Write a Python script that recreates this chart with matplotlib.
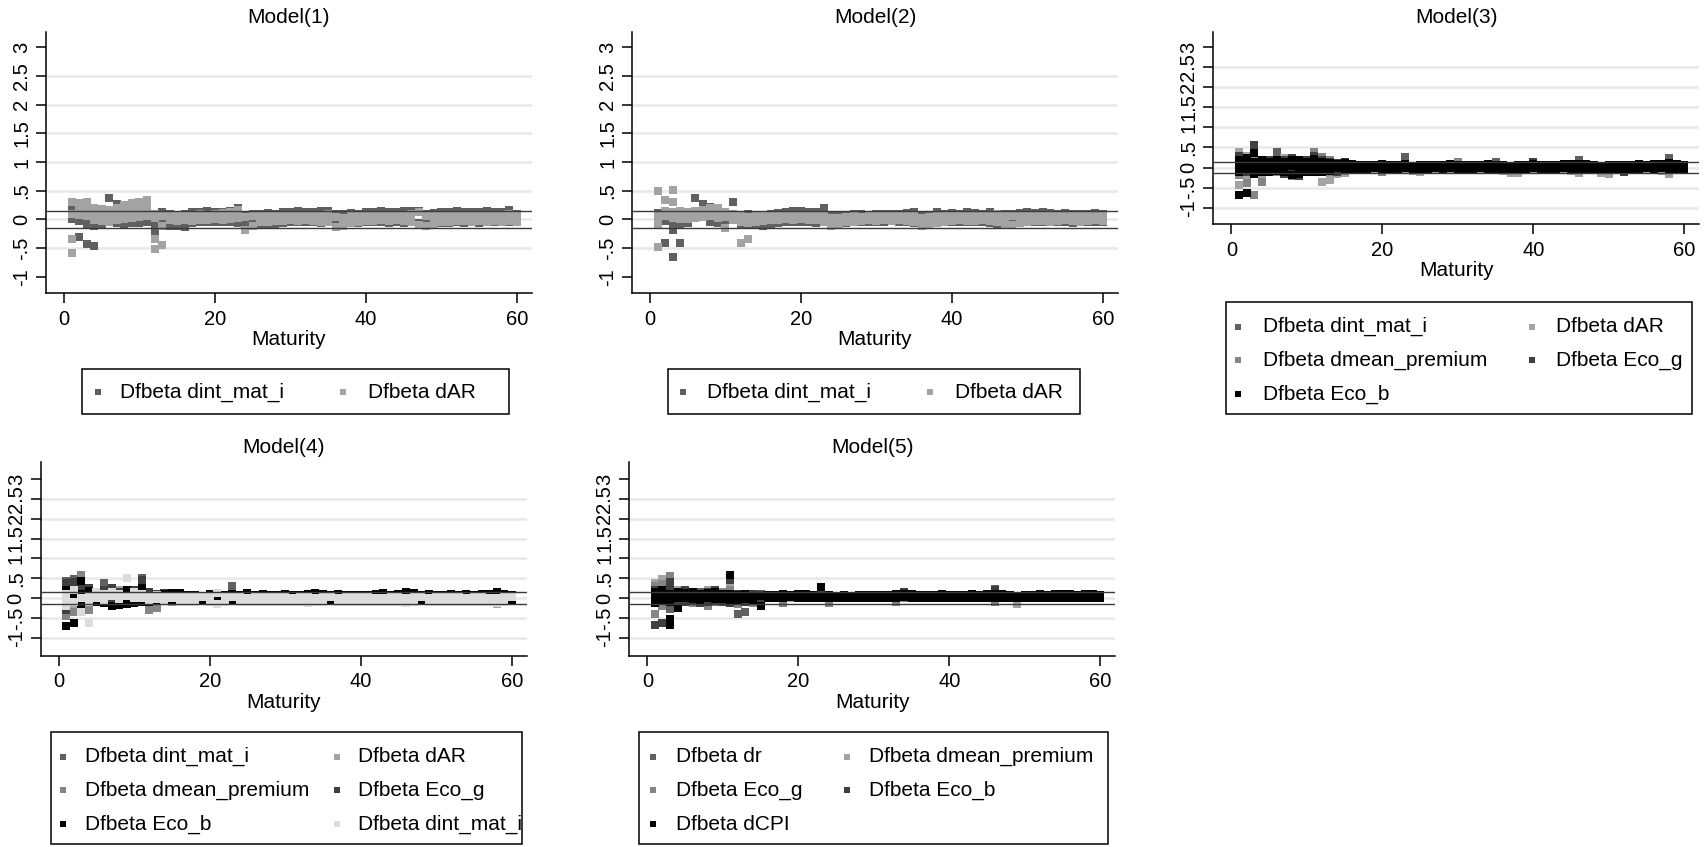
import matplotlib
matplotlib.use("Agg")
import matplotlib.pyplot as plt
from matplotlib.patches import Rectangle
from matplotlib.lines import Line2D

plt.rcParams['font.family'] = ['Liberation Sans', 'DejaVu Sans']

W, H = 1706, 847   # output size in px (dpi 100)

maturity = list(range(1, 61))
xticks = [0, 20, 40, 60]
yticks = [-1, -.5, 0, .5, 1, 1.5, 2, 2.5, 3]
ytick_labels = ['-1', '-.5', '0', '.5', '1', '1.5', '2', '2.5', '3']
cutoff = 0.145     # yline at +/- cutoff

# stata gray shades
gs6, gs10, gs8, gs4, gs0, gs14 = '#606060', '#a3a3a3', '#858585', '#3f3f3f', '#000000', '#dcdcdc'

# ---------------- Model(1): dfbeta values at each maturity ----------------
p1_dint = [
    [.18, 0], [-.3, .05, -.03], [-.43, -.09, .1], [-.47, -.12, .08], [.05, -.08], [.37, .1, -.05], [.27, -.07], [.2, -.08], [.15, -.06], [.18, -.07],
    [.2, -.05], [-.21, -.08], [-.06, .12], [-.12, .1], [-.12, .08], [-.13, .1], [.12, -.06], [.13, -.05], [.14, -.04], [.13, -.05],
    [.12, -.04], [.14, -.05], [.19, -.06], [.08, -.08], [.09, -.07], [.1, -.08], [.11, -.1], [.1, -.1], [.12, -.06], [.13, -.05],
    [.14, -.04], [.12, -.05], [.13, -.04], [.14, -.06], [.15, -.05], [.1, -.08], [.09, -.09], [.11, -.07], [.1, -.06], [.12, -.05],
    [.13, -.05], [.14, -.04], [.12, -.06], [.13, -.05], [.14, -.06], [.15, -.05], [.15, -.06], [.1, -.09], [.11, -.08], [.13, -.07],
    [.12, -.06], [.14, -.05], [.13, -.06], [.12, -.05], [.13, -.06], [.14, -.05], [.13, -.04], [.12, -.05], [.16, -.04], [.1, -.05],
]
p1_dar = [
    [.31, .1, -.34, -.59], [.28, .2, .12, .08], [.31, .22, .15, .05], [.2, .12, .05, -.02], [.18, .1, .03, -.03], [.17, .1, .02, -.04], [.2, .12, .05, -.02], [.25, .15, .07, 0], [.28, .2, .1, .03], [.3, .22, .12, .04],
    [.33, .24, .14, .05], [.1, .02, -.35, -.52], [.05, -.12, -.44], [.08, -.02], [.07, -.03], [.08, -.02], [.07, -.03], [.09, -.02], [.08, -.01], [.1, 0],
    [.11, -.01], [.12, 0], [.17, .02], [.04, -.18], [.05, -.12], [.06, -.05], [.05, -.04], [.06, -.03], [.05, -.03], [.06, -.02],
    [.07, -.03], [.06, -.02], [.07, -.03], [.08, -.04], [.09, -.05], [.04, -.13], [.03, -.11], [.05, -.06], [.06, -.04], [.05, -.03],
    [.06, -.03], [.07, -.02], [.06, -.03], [.07, -.02], [.08, -.03], [.09, -.05], [.12, -.1], [.05, -.12], [.06, -.08], [.05, -.05],
    [.06, -.04], [.07, -.03], [.06, -.03], [.05, -.04], [.06, -.03], [.07, -.04], [.06, -.03], [.08, -.04], [.1, -.03], [.06, -.04],
]

# ---------------- Model(2) ----------------
p2_dint = [
    [.11, -.02], [-.41, -.03], [-.18, -.66, -.12], [-.41, -.1], [.08, -.06], [.38, .1], [.27, .05], [.22, -.05], [.15, -.06], [.1, -.08],
    [.3, 0], [.08, -.1], [.1, -.08], [.07, -.1], [-.12, .05], [.1, -.08], [.11, -.06], [.13, -.05], [.14, -.05], [.14, -.04],
    [.13, -.05], [.12, -.06], [.2, -.04], [.06, -.1], [.07, -.08], [.08, -.06], [.09, -.05], [.1, -.05], [.08, -.04], [.09, -.05],
    [.1, -.04], [.09, -.03], [.1, -.04], [.11, -.05], [.12, -.06], [.08, -.09], [.07, -.08], [.12, -.06], [.1, -.05], [.11, -.04],
    [.1, -.05], [.12, -.04], [.11, -.05], [.1, -.05], [.12, -.06], [.08, -.09], [.1, -.07], [.09, -.06], [.11, -.05], [.12, -.04],
    [.11, -.05], [.12, -.04], [.11, -.05], [.1, -.04], [.11, -.05], [.1, -.06], [.09, -.05], [.1, -.04], [.11, -.05], [.09, -.04],
]
p2_dar = [
    [.49, .05, -.09, -.48], [.34, .15, .05], [.51, .3, .12, .02], [.15, .08, 0], [.12, .06, 0], [.14, .08, .02], [.16, .1, .04], [.2, .12, .05], [.2, .1, .03], [.12, .04, -.15],
    [.1, .03, -.02], [.05, -.05, -.42], [.04, -.06, -.34], [.05, -.05], [.06, -.03], [.07, -.02], [.06, -.01], [.08, 0], [.07, -.01], [.06, 0],
    [.07, -.01], [.06, -.02], [.05, -.05], [.02, -.12], [.03, -.09], [.04, -.05], [.05, -.04], [.04, -.03], [.05, -.02], [.06, -.03],
    [.05, -.02], [.06, -.03], [.05, -.02], [.06, -.03], [.05, -.05], [.03, -.12], [.04, -.1], [.05, -.06], [.06, -.04], [.05, -.03],
    [.06, -.02], [.05, -.03], [.06, -.03], [.07, -.02], [.08, -.03], [.1, -.05], [.06, -.08], [.05, -.1], [.06, -.06], [.05, -.04],
    [.06, -.03], [.07, -.03], [.06, -.04], [.05, -.03], [.06, -.02], [.07, -.03], [.06, -.04], [.07, -.03], [.08, -.02], [.05, -.03],
]

# ---------------- Model(3) ----------------
p3_dint = [
    [.05, -.1], [.15, -.2], [.1, -.1], [.2, -.15], [.15, -.05], [.4, .1], [.15, -.1], [.1, -.05], [.12, -.08], [.1, -.06],
    [.15, -.05], [.08, -.1], [.1, -.08], [.05, -.06], [.08, -.05], [.05], [.06], [.05], [.04], [.05],
    [.06], [.05], [.27], [.04], [.05], [.06], [.05], [.04], [.05], [.06],
    [.05], [.04], [.05], [.06], [.15], [.05], [.04], [.05], [.06], [.05],
    [.04], [.05], [.06], [.05], [.04], [.19], [.05], [.04], [.05], [.06],
    [.05], [.04], [.05], [.06], [.05], [.04], [.05], [.23], [.05], [.04],
]
p3_dar = [
    [.4, .27, -.43], [.3, -.25], [.55, .2], [.1, -.2], [.2, -.1], [.1, -.05], [.23, 0], [.15, -.1], [.2, -.05], [.1, -.08],
    [.28, 0], [-.35, .1], [-.32, .05], [-.15, .05], [-.14, .05], [-.05], [-.04], [-.05], [-.06], [-.05],
    [-.04], [-.05], [-.06], [-.08], [-.12], [-.05], [-.04], [-.05], [-.06], [-.05],
    [-.04], [-.05], [-.06], [-.05], [-.07], [-.08], [-.14], [-.14], [-.05], [-.04],
    [-.05], [-.06], [-.05], [-.04], [-.08], [-.14], [-.05], [-.06], [-.14], [-.15],
    [-.05], [-.04], [-.05], [-.06], [-.05], [-.04], [-.08], [-.15], [-.06], [-.05],
]
p3_dmean = [
    [-.18, .3], [-.39, .1], [-.68, .25], [-.35, .05], [.1, -.1], [.05, -.12], [.1, -.08], [-.22, .1], [.15, -.1], [.2, -.05],
    [.4, .1], [.27, -.05], [.18, -.1], [.1, -.05], [.12, -.08], [0], [.01], [0], [-.01], [-.12],
    [0], [.01], [0], [-.01], [0], [.01], [0], [-.01], [0], [.13],
    [0], [.01], [0], [-.01], [0], [.01], [0], [-.01], [0], [.01],
    [0], [-.01], [0], [.01], [0], [-.01], [0], [.01], [0], [-.01],
    [0], [.01], [0], [-.01], [0], [.01], [0], [-.01], [0], [.01],
]
p3_ecog = [
    [.3, 0], [.25, -.1], [.57, 0], [.15, -.1], [.2, -.05], [.15, 0], [.2, -.15], [.25, -.1], [.2, -.2], [.18, -.1],
    [.3, -.12], [.2, -.1], [.15, -.08], [.12, -.1], [.15, -.06], [.02], [.03], [.02], [.01], [.02],
    [.03], [.02], [.01], [.02], [.03], [.02], [.01], [.02], [.03], [.02],
    [.01], [.02], [.03], [.02], [.01], [.02], [.03], [.02], [.01], [.15],
    [.02], [.03], [.02], [.01], [.02], [.03], [.02], [.01], [.02], [.03],
    [.02], [-.12], [.02], [.03], [.02], [.01], [.02], [.03], [.02], [.01],
]
p3_ecob = [
    [.07, -.68, .2, -.1], [-.64, .15, -.05, .25], [.36, .15, -.05, -.15], [.2, .05, -.1], [.15, 0, -.1], [.18, .05, -.08], [.15, .02, -.12], [.2, .05, -.18], [.18, 0, -.15], [.15, .02, -.1],
    [.22, .05, -.1], [.15, 0, -.12], [.12, 0, -.08], [.1, -.02], [.12, -.03], [.08, -.03], [.07, -.04], [.06, -.03], [.07, -.02], [.08, -.03],
    [.06, -.04], [.07, -.03], [.09, -.02], [.05, -.04], [.06, -.05], [.07, -.03], [.06, -.02], [.07, -.03], [.08, -.02], [.06, -.03],
    [.07, -.04], [.06, -.03], [.07, -.02], [.08, -.03], [.07, -.04], [.06, -.05], [.05, -.06], [.06, -.05], [.07, -.03], [.08, -.02],
    [.07, -.03], [.06, -.04], [.07, -.03], [.08, -.02], [.09, -.03], [.1, -.04], [.08, -.03], [.06, -.05], [.05, -.06], [.06, -.05],
    [.07, -.04], [.06, -.03], [.07, -.04], [.08, -.03], [.07, -.02], [.08, -.03], [.09, -.02], [.12, -.03], [.09, -.04], [.07, -.05],
]

# ---------------- Model(4) ----------------
p4_dint = [
    [.43, .1], [.47, -.1], [.2, -.1], [.1, -.15], [.15, -.05], [.39, .1], [.2, -.12], [.15, -.1], [.1, -.05], [.15, -.1],
    [.51, .2], [.1, -.1], [.05, -.08], [.08, -.05], [.1, -.06], [0], [.01], [0], [-.01], [0],
    [.01], [0], [.3], [0], [.01], [0], [-.01], [0], [.01], [0],
    [-.01], [0], [.01], [0], [-.01], [0], [.01], [0], [-.01], [0],
    [.01], [0], [-.01], [0], [.01], [.16], [0], [.01], [0], [-.01],
    [0], [.01], [0], [-.01], [0], [.01], [0], [-.01], [0], [.01],
]
p4_dar = [
    [.3, -.35], [.35, -.2], [.25, -.3], [.2, -.1], [.1, -.08], [.15, -.05], [.1, -.1], [.2, -.05], [.15, -.1], [.1, -.05],
    [.2, -.1], [-.3, .05], [-.25, .05], [.05, -.08], [.06, -.1], [-.05], [-.04], [-.05], [-.06], [-.05],
    [-.04], [-.05], [-.06], [-.05], [-.04], [-.05], [-.06], [-.05], [-.04], [-.05],
    [-.06], [-.05], [-.04], [-.05], [-.06], [-.05], [-.04], [-.05], [-.06], [-.05],
    [-.04], [-.05], [-.06], [-.05], [-.04], [-.05], [-.06], [-.05], [-.04], [-.05],
    [-.06], [-.05], [-.04], [-.05], [-.06], [-.05], [-.04], [-.14], [-.05], [-.04],
]
p4_dmean = [
    [-.45, .2], [-.35, .3], [.57, -.1], [-.3, .1], [.1, -.1], [.2, -.05], [.1, -.15], [.15, -.1], [.2, 0], [.1, -.05],
    [.3, -.1], [.1, -.3], [.05, -.25], [.1, -.05], [.05, -.08], [0], [-.01], [0], [.01], [0],
    [-.01], [0], [.01], [0], [-.01], [0], [.01], [0], [-.01], [0],
    [.01], [0], [-.01], [0], [.01], [0], [-.01], [0], [.01], [0],
    [-.01], [0], [.01], [0], [-.01], [-.12], [.01], [0], [-.01], [0],
    [.01], [0], [-.01], [0], [.01], [0], [-.01], [-.12], [.01], [0],
]
p4_ecog = [
    [.38, -.3], [.4, -.1], [.3, -.15], [.25, -.05], [.15, -.1], [.2, 0], [.25, -.15], [.15, -.1], [.2, -.05], [.2, -.1],
    [.45, -.05], [.15, -.1], [.1, -.05], [.12, -.08], [.1, -.05], [.02], [.03], [.02], [.01], [.02],
    [.03], [.02], [.01], [.02], [.03], [.02], [.01], [.02], [.03], [.02],
    [.01], [.02], [.03], [.02], [.01], [.02], [.03], [.02], [.01], [.02],
    [.03], [.02], [.01], [.02], [.03], [.14], [.02], [.01], [.02], [.03],
    [.02], [.01], [.02], [.03], [.02], [.01], [.02], [.16], [.02], [.01],
]
p4_ecob = [
    [-.71, .05, .2], [-.64, .15, -.05], [.43, -.2, .1], [.18, -.05], [.1, -.1], [.05, -.12], [-.2, .1], [-.18, .05], [-.15, .2], [-.12, .1],
    [.26, -.1], [.05, -.1], [.08, -.05], [.1, -.02], [.12, -.08], [.12, -.05], [.08, -.06], [.07, -.07], [.06, -.08], [.09, -.05],
    [.01, -.06], [.08, -.05], [.1, -.08], [.07, -.06], [.12, -.04], [.08, -.05], [.09, -.06], [.07, -.05], [.08, -.04], [.09, -.05],
    [.07, -.06], [.08, -.07], [.1, -.05], [.12, -.04], [.09, -.06], [.07, -.08], [.11, -.05], [.08, -.06], [.07, -.05], [.08, -.06],
    [.07, -.07], [.09, -.05], [.13, -.04], [.08, -.06], [.09, -.05], [.14, -.04], [.12, -.05], [.07, -.08], [.11, -.06], [.08, -.05],
    [.07, -.06], [.09, -.07], [.08, -.05], [.1, -.04], [.08, -.06], [.09, -.05], [.1, -.06], [.15, -.04], [.09, -.05], [.07, -.08],
]
p4_dint2 = [
    [.1, 0, -.2], [.2, -.1], [0, -.35], [-.64, .05, -.1], [.15, 0], [.1, -.05], [.05, .15], [.1, -.02], [.51, .05], [.15, 0],
    [.1, 0], [.05, -.05], [.08, -.02], [.06, -.04], [.05, 0], [.02, -.1], [.03, -.1], [.02, -.11], [.02], [.03, -.09],
    [.12, -.15], [.02, -.1], [.02], [.03, -.1], [.01, -.11], [.02, -.1], [.03, -.09], [.02, -.1], [.03, -.11], [.02, -.1],
    [.01, -.09], [.03, -.1], [.02, -.12], [.01, -.1], [.02, -.11], [.02], [.01, -.1], [.03, -.1], [.02, -.09], [.03, -.11],
    [.02, -.1], [.01, -.1], [.01, -.1], [.03, -.11], [.02, -.1], [.01, -.12], [.02, -.1], [.02], [.01, -.1], [.03, -.11],
    [.02, -.1], [.03, -.09], [.02, -.1], [.01, -.11], [.03, -.1], [.02, -.1], [.01, -.09], [.01, -.12], [.02, -.1], [.02],
]

# ---------------- Model(5) ----------------
p5_dr = [
    [.1, -.1], [.2, -.15], [-.27, .4], [.1, -.1], [.15, -.05], [.1, -.1], [.15, -.1], [.1, -.08], [.2, -.05], [.1, -.1],
    [.43, .1], [-.41, 0], [-.34, .05], [.05, -.1], [.1, -.05], [.03], [.02], [.03], [.04], [.03],
    [.02], [.03], [.04], [.03], [.02], [.03], [.04], [.03], [.02], [.03],
    [.04], [.03], [.02], [.13], [.03], [.04], [.03], [.02], [.03], [.04],
    [.03], [.02], [.03], [.04], [.03], [.22], [.03], [.02], [.03], [.04],
    [.03], [.02], [.03], [.04], [.03], [.02], [.03], [.04], [.03], [.02],
]
p5_dmean = [
    [.39, .25], [.47, .3], [.3, .1], [.2, -.1], [.1, -.05], [.15, -.1], [.1, -.05], [.2, -.1], [.15, 0], [.1, -.05],
    [.3, 0], [.1, -.05], [.05, -.1], [.1, -.05], [.05, -.08], [0], [.01], [0], [-.01], [0],
    [.01], [0], [-.01], [0], [.01], [0], [-.01], [0], [.01], [0],
    [-.01], [0], [.01], [0], [-.01], [0], [.01], [0], [-.01], [0],
    [.01], [0], [-.01], [0], [.01], [0], [-.01], [0], [-.16], [0],
    [.01], [0], [-.01], [0], [.01], [0], [-.01], [0], [.01], [0],
]
p5_ecog = [
    [-.41, .3], [.35, -.2], [.55, -.1], [.15, -.15], [.05, -.1], [.1, -.12], [-.13, .1], [-.2, .05], [.1, -.1], [.15, -.05],
    [.2, -.1], [.05, -.15], [.1, -.1], [.05, -.12], [.08, -.1], [.02], [.01], [-.12], [.02], [.01],
    [.02], [.01], [.02], [-.12], [.01], [.02], [.01], [.02], [.01], [.02],
    [.01], [.02], [-.11], [.01], [.02], [.01], [.02], [.01], [.02], [.01],
    [.02], [.01], [.02], [.01], [.02], [-.1], [.01], [.02], [.01], [.02],
    [.01], [.02], [.01], [.02], [.01], [.02], [.01], [.02], [.01], [.02],
]
p5_ecob = [
    [-.69, .2], [-.62, .2], [.4, -.54, .3], [.1, -.15], [.2, -.1], [.15, -.08], [.1, -.12], [.15, -.1], [.2, -.05], [.1, -.1],
    [.45, -.12], [.1, -.08], [.05, -.1], [.1, -.06], [.08, -.12], [.04], [.05], [.04], [.03], [.04],
    [.05], [.04], [.15], [.04], [.05], [.04], [.03], [.04], [.05], [.04],
    [.03], [.04], [.05], [.14], [.04], [.05], [.04], [.03], [.04], [.05],
    [.04], [.03], [.04], [.05], [.04], [.2], [.04], [.03], [.04], [.05],
    [.04], [.03], [.04], [.05], [.04], [.03], [.04], [.05], [.04], [.03],
]
p5_dcpi = [
    [.15, -.12, 0], [.1, -.05, .2], [-.69, -.54, .1, -.1], [.15, -.24, 0], [.12, 0], [.15, -.02], [.1, -.05], [.12, 0], [.15, -.03], [.1, -.02],
    [.58, .1, -.05], [.08, -.05], [.1, -.02], [.06, -.05], [-.2, .05], [.08, 0], [.07, .01], [.09, 0], [.08, .02], [.1, .01],
    [.09, 0], [.08, .01], [.29, .05, -.01], [.07, 0], [.06, -.01], [.07, .01], [.06, 0], [.07, -.01], [.08, 0], [.07, .01],
    [.08, 0], [.07, .01], [.09, 0], [.1, .02], [.09, .01], [.08, 0], [.07, -.01], [.08, 0], [.09, .01], [.08, 0],
    [.07, .01], [.08, 0], [.09, .01], [.08, 0], [.1, .01], [.11, 0], [.09, .01], [.07, -.01], [.06, 0], [.07, .01],
    [.08, 0], [.09, .01], [.08, 0], [.09, .01], [.1, 0], [.09, .01], [.08, 0], [.1, .01], [.09, 0], [.08, .01],
]

labels_12 = ['Dfbeta dint_mat_i', 'Dfbeta dAR']
labels_3 = ['Dfbeta dint_mat_i', 'Dfbeta dAR', 'Dfbeta dmean_premium', 'Dfbeta Eco_g', 'Dfbeta Eco_b']
labels_4 = labels_3 + ['Dfbeta dint_mat_i']
labels_5 = ['Dfbeta dr', 'Dfbeta dmean_premium', 'Dfbeta Eco_g', 'Dfbeta Eco_b', 'Dfbeta dCPI']

grid_a = [-.5, 0, .5, 1, 1.5, 2, 2.5]
grid_b = [-1, -.5, 0, .5, 1, 1.5, 2, 2.5]

# layout in px: axes (left, top, right, bottom), ylim, legend box, legend rows, marker/text x per column
panels = [
    dict(title='Model(1)', series=[p1_dint, p1_dar], colors=[gs6, gs10], labels=labels_12,
         box=(45.9, 32.3, 532, 293.3), ylim=(-1.29, 3.262), grid=grid_a,
         leg=(82, 369, 509, 414), rows=[392], mk=[97.7, 343], tx=[120, 368]),
    dict(title='Model(2)', series=[p2_dint, p2_dar], colors=[gs6, gs10], labels=labels_12,
         box=(631.9, 32.3, 1118, 293.3), ylim=(-1.29, 3.262), grid=grid_a,
         leg=(668, 369, 1080, 414), rows=[392], mk=[683, 930], tx=[706.7, 955]),
    dict(title='Model(3)', series=[p3_dint, p3_dar, p3_dmean, p3_ecog, p3_ecob],
         colors=[gs6, gs10, gs8, gs4, gs0], labels=labels_3,
         box=(1213.3, 32.3, 1699.5, 224.3), ylim=(-1.416, 3.374), grid=grid_b,
         leg=(1225.6, 302.3, 1692.4, 414), rows=[326.7, 360.5, 394.3], mk=[1238.5, 1532], tx=[1263, 1555.6]),
    dict(title='Model(4)', series=[p4_dint, p4_dar, p4_dmean, p4_ecog, p4_ecob, p4_dint2],
         colors=[gs6, gs10, gs8, gs4, gs0, gs14], labels=labels_4,
         box=(40.6, 462.3, 526.8, 656), ylim=(-1.46, 3.42), grid=grid_b,
         leg=(51, 732.3, 521.7, 844), rows=[756.7, 790.3, 824], mk=[63.3, 336.7], tx=[85, 358.3]),
    dict(title='Model(5)', series=[p5_dr, p5_dmean, p5_ecog, p5_ecob, p5_dcpi],
         colors=[gs6, gs10, gs8, gs4, gs0], labels=labels_5,
         box=(629.2, 462.3, 1115.4, 656), ylim=(-1.46, 3.42), grid=grid_b,
         leg=(639.3, 732.3, 1108, 844), rows=[756.7, 790.3, 824], mk=[653.3, 846.7], tx=[675.7, 869.3]),
]

fig = plt.figure(figsize=(W / 100, H / 100), dpi=100)


def fx(px):
    return px / W


def fy(py):
    return 1 - py / H


for p in panels:
    l, t, r, b = p['box']
    ax = fig.add_axes([fx(l), fy(b), (r - l) / W, (b - t) / H])
    ax.set_xlim(-2.4, 62)
    ax.set_ylim(*p['ylim'])
    for g in p['grid']:
        ax.axhline(g, color='#e8e8e8', lw=1.8, zorder=0)
    for vals, col in zip(p['series'], p['colors']):
        assert len(vals) == 60
        xs = [m for m, vs in zip(maturity, vals) for v in vs]
        ys = [v for vs in vals for v in vs]
        ax.scatter(xs, ys, marker='s', s=36, color=col, linewidths=0, zorder=2)
    for c in (cutoff, -cutoff):
        ax.axhline(c, color='#3a3a3a', lw=1.0, zorder=4)

    ax.set_xticks(xticks)
    ax.set_yticks(yticks)
    ax.set_yticklabels(ytick_labels, rotation=90, va='center')
    ax.tick_params(length=7.2, width=1.1, labelsize=14.5)
    ax.tick_params(axis='x', pad=4.5)
    ax.tick_params(axis='y', pad=3.5)
    for s in ('top', 'right'):
        ax.spines[s].set_visible(False)
    for s in ('left', 'bottom'):
        ax.spines[s].set_linewidth(1.1)
    ax.set_xlabel('Maturity', fontsize=15, labelpad=1)
    ax.set_title(p['title'], fontsize=15, pad=7)

    # legend box drawn by hand (stata style, 2 columns)
    ll, lt, lr, lb = p['leg']
    rect = Rectangle((fx(ll), fy(lb)), (lr - ll) / W, (lb - lt) / H, transform=fig.transFigure,
                     facecolor='white', edgecolor='black', lw=1.1)
    fig.add_artist(rect)
    for i, (lab, col) in enumerate(zip(p['labels'], p['colors'])):
        row, c = divmod(i, 2)
        y = p['rows'][row]
        fig.add_artist(Line2D([fx(p['mk'][c])], [fy(y)], marker='s', ms=4.8, color=col,
                              mew=0, transform=fig.transFigure))
        txt = fig.text(fx(p['tx'][c]), fy(y), lab, fontsize=15, ha='left', va='center')
        txt.set_clip_path(rect)

fig.savefig('out.png', dpi=100)
